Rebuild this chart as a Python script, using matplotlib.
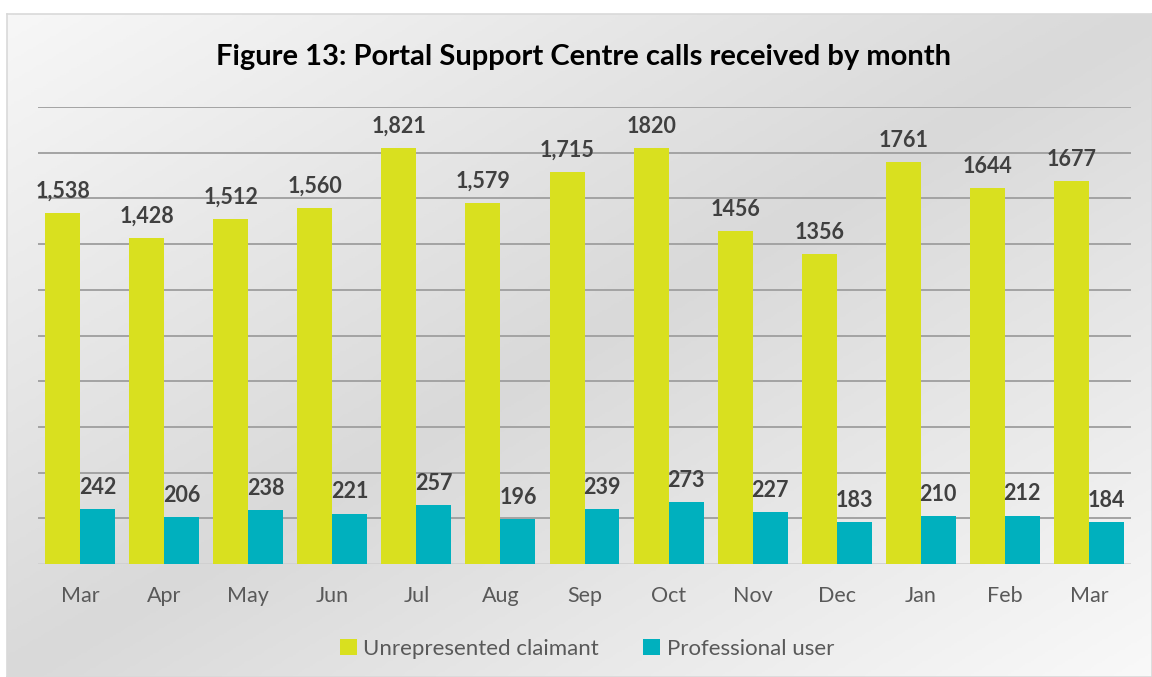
import numpy as np
import matplotlib.pyplot as plt
from matplotlib.colors import LinearSegmentedColormap

plt.rcParams['font.family'] = ['Lato', 'DejaVu Sans']

# Datos
months = ['Mar', 'Apr', 'May', 'Jun', 'Jul', 'Aug', 'Sep',
          'Oct', 'Nov', 'Dec', 'Jan', 'Feb', 'Mar']
unrepresented = [1538, 1428, 1512, 1560, 1821, 1579, 1715,
                 1820, 1456, 1356, 1761, 1644, 1677]
professional = [242, 206, 238, 221, 257, 196, 239,
                273, 227, 183, 210, 212, 184]
# the first seven labels use a thousands separator, the rest don't
n_comma = 7

yellow = '#d9e01f'
teal = '#00b0be'
label_col = '#404040'

W, H = 1152, 677
fig = plt.figure(figsize=(W / 100, H / 100), dpi=100)
fig.patch.set_facecolor('white')

# Fondo: degradado diagonal blanco -> gris -> blanco
bg = fig.add_axes([7 / W, 0, 1 - 7 / W, 1 - 14 / H], zorder=0)
gx, gy = np.meshgrid(np.linspace(0, 1, 400), np.linspace(0, 1, 300))
t = (gx + gy) / 2
cmap = LinearSegmentedColormap.from_list(
    'bg', [(0, '#f7f7f7'), (0.5, '#d9d9d9'), (1, '#f9f9f9')])
bg.imshow(t, cmap=cmap, aspect='auto', extent=(0, 1, 0, 1), origin='upper',
          vmin=0, vmax=1)
bg.set_xticks([])
bg.set_yticks([])
for s in bg.spines.values():
    s.set_color('#d9d9d9')
    s.set_linewidth(1.2)

ax = fig.add_axes([38 / W, (H - 564) / H, (1131 - 38) / W, (564 - 107) / H],
                  zorder=1)
ax.patch.set_alpha(0)

x = np.arange(len(months))
w = 0.416
b1 = ax.bar(x - w / 2, unrepresented, w, color=yellow, label='Unrepresented claimant', zorder=3)
b2 = ax.bar(x + w / 2, professional, w, color=teal, label='Professional user', zorder=3)

for i, (r, v) in enumerate(zip(b1, unrepresented)):
    txt = f'{v:,}' if i < n_comma else str(v)
    ax.annotate(txt, (r.get_x() + r.get_width() / 2, v), xytext=(0, 8),
                textcoords='offset points', ha='center', va='bottom',
                fontsize=15.5, fontweight='bold', color=label_col, zorder=4)
for r, v in zip(b2, professional):
    ax.annotate(str(v), (r.get_x() + r.get_width() / 2, v), xytext=(0, 8),
                textcoords='offset points', ha='center', va='bottom',
                fontsize=15.5, fontweight='bold', color=label_col, zorder=4)

ax.set_xlim(-0.5, len(months) - 0.5)
ax.set_ylim(0, 2000)
ax.set_yticks(np.arange(200, 2001, 200))
ax.yaxis.grid(True, color='#a3a3a3', linewidth=1.4, zorder=0)
ax.axhline(0, color='#d0d0d0', linewidth=1.3, zorder=2)
ax.set_axisbelow(True)
ax.tick_params(axis='y', length=0, labelleft=False)
ax.set_xticks(x)
ax.set_xticklabels(months)
ax.tick_params(axis='x', length=0, pad=16, labelsize=15.5, labelcolor='#595959')
for s in ax.spines.values():
    s.set_visible(False)

fig.text(584 / W, 1 - 57 / H, 'Figure 13: Portal Support Centre calls received by month',
         ha='center', va='center', fontsize=21, fontweight='bold', color='black', zorder=5)

leg = fig.legend(handles=[b1, b2], loc='center', bbox_to_anchor=(587 / W, 1 - 649 / H),
                 ncol=2, frameon=False, fontsize=16, handlelength=0.75, handleheight=0.75,
                 handletextpad=0.3, columnspacing=2.0, labelcolor='#595959')

plt.savefig('out.png', dpi=100)
